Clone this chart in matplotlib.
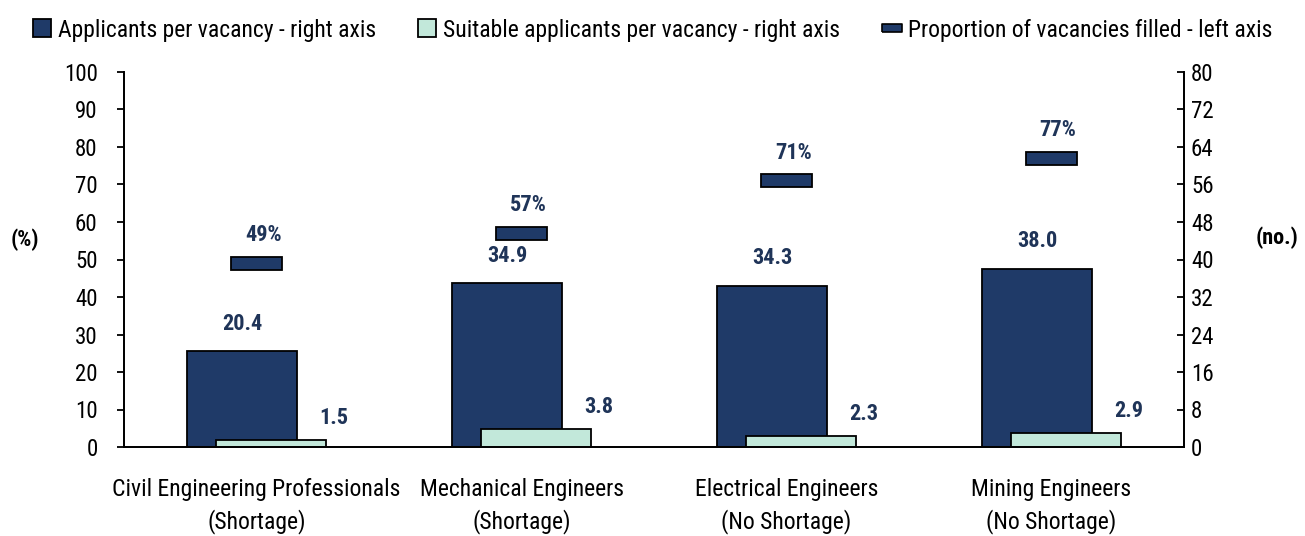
import numpy as np
import matplotlib
matplotlib.use('Agg')
import matplotlib.pyplot as plt
from matplotlib.lines import Line2D
from matplotlib.patches import Patch

plt.rcParams['font.family'] = ['Roboto Condensed', 'Liberation Sans Narrow', 'Open Sans Condensed',
                               'Liberation Sans', 'DejaVu Sans']

categories = ['Civil Engineering Professionals\n(Shortage)', 'Mechanical Engineers\n(Shortage)',
              'Electrical Engineers\n(No Shortage)', 'Mining Engineers\n(No Shortage)']
applicants = [20.4, 34.9, 34.3, 38.0]
suitable = [1.5, 3.8, 2.3, 2.9]
filled_pct = [49, 57, 71, 77]

navy = '#1f3a68'
mint = '#c2e8da'
label_col = '#1f3458'

x = np.arange(len(categories))
w = 0.415
fs_txt = 17
fs_tick = 16.5
fs_lab = 16

fig = plt.figure(figsize=(13.05, 5.36), dpi=100)
ax = fig.add_axes([124 / 1305, 89 / 536, 1060 / 1305, 375 / 536])
ax2 = ax.twinx()

# bars on the "no." scale (shown on the right)
ax.bar(x - 0.055, applicants, w, color=navy, edgecolor='black', linewidth=1.3, zorder=2)
ax.bar(x + 0.055, suitable, w, color=mint, edgecolor='black', linewidth=1.3, zorder=3)
ax.set_ylim(0, 80)
ax.set_xlim(-0.5, len(categories) - 0.5)
ax.set_yticks(np.arange(0, 81, 8))
ax.yaxis.tick_right()
ax.tick_params(axis='y', direction='in', length=5, width=1.3, pad=5, labelsize=fs_tick)
ax.set_xticks(x)
ax.set_xticklabels(categories, fontsize=fs_txt, linespacing=1.45)
ax.tick_params(axis='x', length=0, pad=22)

for xi, v in zip(x, applicants):
    ax.annotate(f'{v:.1f}', (xi - 0.055, v), xytext=(0, 20), textcoords='offset points',
                ha='center', va='center', fontsize=fs_lab, fontweight='bold', color=label_col)
for xi, v in zip(x, suitable):
    ax.annotate(f'{v:.1f}', (xi + 0.29, v), xytext=(0, 16), textcoords='offset points',
                ha='center', va='center', fontsize=fs_lab, fontweight='bold', color=label_col)

# proportion markers on the % scale (shown on the left)
mh = 3.5
ax2.bar(x, [mh] * len(x), 0.196, bottom=np.array(filled_pct) - mh / 2,
        color=navy, edgecolor='black', linewidth=1.3, zorder=4)
ax2.set_ylim(0, 100)
ax2.set_yticks(np.arange(0, 101, 10))
ax2.yaxis.tick_left()
ax2.tick_params(axis='y', direction='out', length=5, width=1.3, pad=14, labelsize=fs_tick)
for xi, v in zip(x, filled_pct):
    ax2.annotate(f'{v}%', (xi + 0.025, v), xytext=(0, 20), textcoords='offset points',
                 ha='center', va='center', fontsize=fs_lab, fontweight='bold', color=label_col)

for a in (ax, ax2):
    a.spines['top'].set_visible(False)
    for s in ('left', 'right', 'bottom'):
        a.spines[s].set_linewidth(1.3)

fig.text(25 / 1305, 1 - 240 / 536, '(%)', ha='center', va='center', fontsize=fs_lab, fontweight='bold')
fig.text(1277 / 1305, 1 - 238 / 536, '(no.)', ha='center', va='center', fontsize=fs_lab, fontweight='bold')

dash = [(-1, -0.38), (1, -0.38), (1, 0.38), (-1, 0.38), (-1, -0.38)]
handles = [
    Patch(facecolor=navy, edgecolor='black', linewidth=1.3),
    Patch(facecolor=mint, edgecolor='black', linewidth=1.3),
    Line2D([], [], linestyle='none', marker=dash, markersize=14, markerfacecolor=navy,
           markeredgecolor='black', markeredgewidth=1.2),
]
labels = ['Applicants per vacancy - right axis', 'Suitable applicants per vacancy - right axis',
          'Proportion of vacancies filled - left axis']
fig.legend(handles, labels, loc='center', bbox_to_anchor=(0.5, 1 - 30 / 536), ncol=3,
           frameon=False, fontsize=fs_txt, handlelength=0.75, handleheight=0.8, handletextpad=0.3,
           columnspacing=1.8)

fig.savefig('out.png', dpi=100)
